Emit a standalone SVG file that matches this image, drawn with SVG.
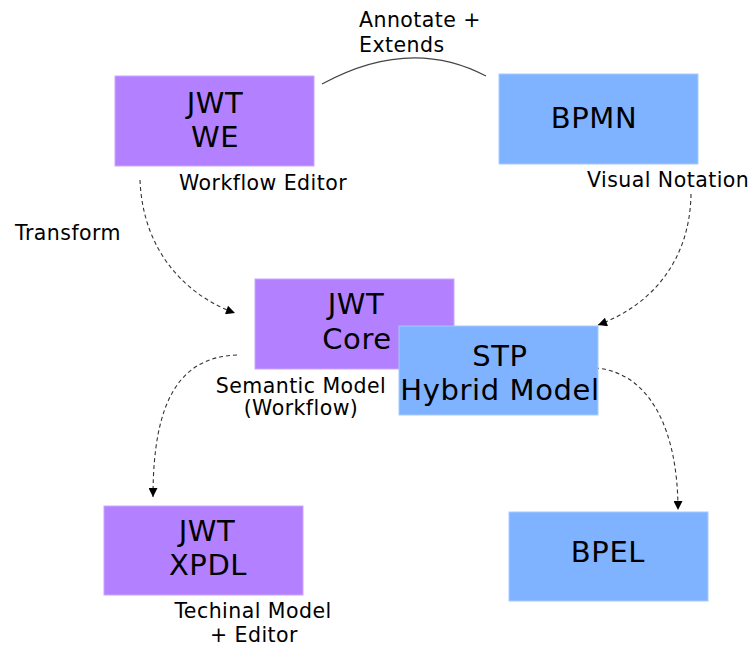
<svg xmlns="http://www.w3.org/2000/svg" width="752" height="647" viewBox="0 0 752 647">
<defs>
<style>
.purple{fill:#b380ff;stroke:#c9a6ff;stroke-width:1}
.blue{fill:#80b3ff;stroke:#a6caff;stroke-width:1}
.nt{font-family:"DejaVu Sans",sans-serif;font-size:29px;letter-spacing:0.6px;fill:#000;text-anchor:middle}
.lb{font-family:"DejaVu Sans",sans-serif;font-size:20.5px;letter-spacing:0.45px;fill:#000}
.dash{fill:none;stroke:#333;stroke-width:1.1;stroke-dasharray:4,3;marker-end:url(#ah)}
.solid{fill:none;stroke:#444;stroke-width:1.2}
</style>
<marker id="ah" viewBox="0 0 10 10" refX="10" refY="5" markerWidth="10" markerHeight="9" markerUnits="userSpaceOnUse" orient="auto">
<path d="M0,0 L10,5 L0,10 Z" fill="#000"/>
</marker>
</defs>
<rect width="752" height="647" fill="#fff"/>
<g id="connectors">
<path class="solid" d="M322,84 Q410,36 486,76"/>
<path class="dash" d="M140,180 C143,255 190,297 235,313"/>
<path class="dash" d="M691,194 C690,262 650,306 598,325"/>
<path class="dash" d="M237,355 C180,357 153,400 153,497"/>
<path class="dash" d="M595,368 C650,372 678,430 678,510"/>
</g>
<g id="node-jwt-we">
<rect class="purple" x="115" y="76" width="199" height="90"/>
<text class="nt" x="215" y="113">JWT</text>
<text class="nt" x="215" y="147">WE</text>
</g>
<g id="node-bpmn">
<rect class="blue" x="499" y="74" width="199" height="90"/>
<text class="nt" x="594" y="128">BPMN</text>
</g>
<g id="node-jwt-core">
<rect class="purple" x="255" y="279" width="199" height="90"/>
<text class="nt" x="356" y="314">JWT</text>
<text class="nt" x="357" y="349">Core</text>
</g>
<g id="node-stp">
<rect class="blue" x="399" y="326" width="199" height="89"/>
<text class="nt" x="500" y="366">STP</text>
<text class="nt" x="500" y="400">Hybrid Model</text>
</g>
<g id="node-jwt-xpdl">
<rect class="purple" x="104" y="506" width="199" height="89"/>
<text class="nt" x="207" y="541">JWT</text>
<text class="nt" x="208" y="575">XPDL</text>
</g>
<g id="node-bpel">
<rect class="blue" x="509" y="512" width="199" height="89"/>
<text class="nt" x="608" y="562">BPEL</text>
</g>
<g id="labels">
<text class="lb" x="359" y="27">Annotate +</text>
<text class="lb" x="359" y="52">Extends</text>
<text class="lb" x="179" y="190">Workflow Editor</text>
<text class="lb" x="587" y="187">Visual Notation</text>
<text class="lb" x="15" y="240">Transform</text>
<text class="lb" x="301" y="393" text-anchor="middle">Semantic Model</text>
<text class="lb" x="301" y="415" text-anchor="middle">(Workflow)</text>
<text class="lb" x="253" y="618" text-anchor="middle">Techinal Model</text>
<text class="lb" x="254" y="642" text-anchor="middle">+ Editor</text>
</g>
</svg>
